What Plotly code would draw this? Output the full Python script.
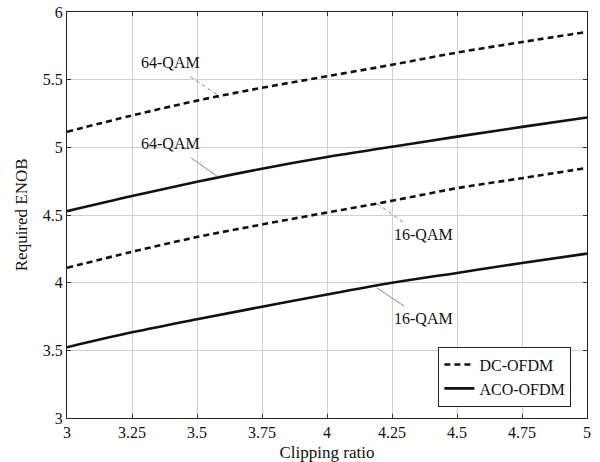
import plotly.graph_objects as go

clip_ratio = [3.0, 3.25, 3.5, 3.75, 4.0, 4.25, 4.5, 4.75, 5.0]
dc_64qam = [5.115, 5.235, 5.345, 5.44, 5.525, 5.61, 5.70, 5.778, 5.853]
aco_64qam = [4.528, 4.64, 4.745, 4.842, 4.928, 5.004, 5.079, 5.151, 5.221]
dc_16qam = [4.11, 4.228, 4.337, 4.43, 4.518, 4.605, 4.698, 4.772, 4.848]
aco_16qam = [3.523, 3.633, 3.73, 3.822, 3.912, 3.999, 4.072, 4.146, 4.215]

x_ticks = [3, 3.25, 3.5, 3.75, 4, 4.25, 4.5, 4.75, 5]
x_tick_labels = ["3", "3.25", "3.5", "3.75", "4", "4.25", "4.5", "4.75", "5"]
y_ticks = [3, 3.5, 4, 4.5, 5, 5.5, 6]
y_tick_labels = ["3", "3.5", "4", "4.5", "5", "5.5", "6"]

FONT = "Liberation Serif"
BLACK = "#111111"
TXT = "#111111"

fig = go.Figure()
fig.add_trace(go.Scatter(x=clip_ratio, y=dc_64qam, mode="lines", name="DC-OFDM",
                         line=dict(color=BLACK, width=2.6, dash="6px,4px", shape="spline")))
fig.add_trace(go.Scatter(x=clip_ratio, y=aco_64qam, mode="lines", name="ACO-OFDM",
                         line=dict(color=BLACK, width=2.6, shape="spline")))
fig.add_trace(go.Scatter(x=clip_ratio, y=dc_16qam, mode="lines", showlegend=False,
                         line=dict(color=BLACK, width=2.6, dash="6px,4px", shape="spline")))
fig.add_trace(go.Scatter(x=clip_ratio, y=aco_16qam, mode="lines", showlegend=False,
                         line=dict(color=BLACK, width=2.6, shape="spline")))

# labels with leader lines
labels = [
    dict(text="64-QAM", tx=3.398, ty=5.625, x0=3.474, y0=5.523, x1=3.582, y1=5.383, dash="4px,3px"),
    dict(text="64-QAM", tx=3.398, ty=5.028, x0=3.477, y0=4.922, x1=3.578, y1=4.786, dash="solid"),
    dict(text="16-QAM", tx=4.370, ty=4.356, x0=4.192, y0=4.585, x1=4.297, y1=4.442, dash="4px,3px"),
    dict(text="16-QAM", tx=4.370, ty=3.737, x0=4.192, y0=3.962, x1=4.297, y1=3.826, dash="solid"),
]
for lb in labels:
    fig.add_annotation(x=lb["tx"], y=lb["ty"], text=lb["text"], showarrow=False,
                       font=dict(family=FONT, size=16, color=TXT))
    fig.add_shape(type="line", x0=lb["x0"], y0=lb["y0"], x1=lb["x1"], y1=lb["y1"],
                  line=dict(color="#888888", width=1, dash=lb["dash"]))

# y-axis title placed as paper-anchored text
fig.add_annotation(xref="paper", yref="paper", x=-0.088, y=0.5, text="Required ENOB",
                   textangle=-90, showarrow=False, xanchor="center", yanchor="middle",
                   font=dict(family=FONT, size=17, color=TXT))

axis_common = dict(
    showgrid=True, gridcolor="#cfcfcf", gridwidth=1,
    showline=True, linecolor="#222222", linewidth=1.2, mirror="all",
    ticks="inside", ticklen=4, tickcolor="#333333",
    zeroline=False, automargin=False,
    tickfont=dict(family=FONT, size=16, color=TXT),
    title_font=dict(family=FONT, size=17, color=TXT),
)

fig.update_layout(
    width=600, height=462,
    margin=dict(l=67, r=13, t=12, b=44),
    paper_bgcolor="white", plot_bgcolor="white",
    showlegend=True,
    legend=dict(x=0.97, y=0.028, xanchor="right", yanchor="bottom",
                bgcolor="white", bordercolor="#222222", borderwidth=1,
                font=dict(family=FONT, size=16, color=TXT),
                itemwidth=30, tracegroupgap=0),
    xaxis=dict(range=[3, 5], tickvals=x_ticks, ticktext=x_tick_labels,
               title=dict(text="Clipping ratio"), **axis_common),
    yaxis=dict(range=[3, 6], tickvals=y_ticks, ticktext=y_tick_labels,
               **axis_common),
)

fig.write_html("out.html")
